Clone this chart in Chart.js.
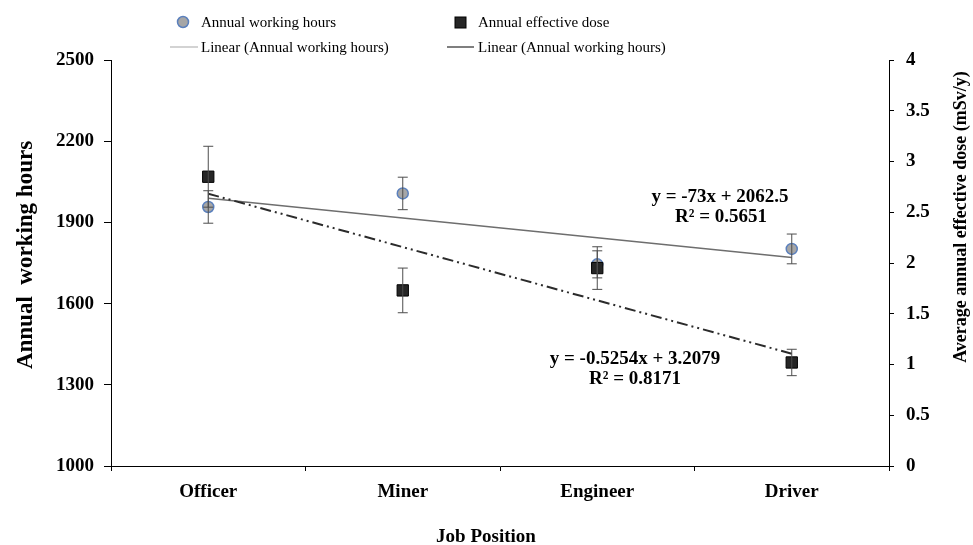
<!DOCTYPE html>
<html>
<head>
<meta charset="utf-8">
<script src="https://cdn.jsdelivr.net/npm/chart.js@4/dist/chart.umd.min.js"></script>
<style>
  html, body { margin: 0; padding: 0; background: #fff; }
  #wrap { width: 973px; height: 545px; position: relative; }
</style>
</head>
<body>
<div id="wrap"><canvas id="c" width="973" height="545"></canvas></div>
<script>
// ---- data ----
const categories = ['Officer', 'Miner', 'Engineer', 'Driver'];
const workingHours = [1957, 2007, 1745, 1802];
const workingHoursErr = [60, 60, 50, 55];
const effectiveDose = [2.85, 1.73, 1.95, 1.02];
const effectiveDoseErr = [0.30, 0.22, 0.21, 0.13];
const hoursTrend = [1989.5, 1916.5, 1843.5, 1770.5];   // y = -73x + 2062.5
const doseTrend = [2.6825, 2.1571, 1.6317, 1.1063];    // y = -0.5254x + 3.2079
const hoursTicks = [1000, 1300, 1600, 1900, 2200, 2500];
const doseTicks = [0, 0.5, 1, 1.5, 2, 2.5, 3, 3.5, 4];
const hoursEquation = ['y = -73x + 2062.5', 'R² = 0.5651'];
const doseEquation = ['y = -0.5254x + 3.2079', 'R² = 0.8171'];
const legendLabels = ['Annual working hours', 'Annual effective dose',
                      'Linear (Annual working hours)', 'Linear (Annual working hours)'];
const xTitle = 'Job Position';
const yTitle = 'Annual  working hours';
const y1Title = 'Average annual effective dose (mSv/y)';

const SERIF = "'Liberation Serif', 'Times New Roman', serif";
const CIRCLE_FILL = '#a6a6a6', CIRCLE_BORDER = '#5b80bd';
const SQUARE_FILL = '#262626', SQUARE_BORDER = '#000000';
const DOSE_DASH = [11, 4, 2, 4, 2, 4];

const errorBarPlugin = {
  id: 'errorBars',
  afterDatasetsDraw(chart) {
    const ctx = chart.ctx, xs = chart.scales.x;
    const draw = (vals, errs, scale) => {
      vals.forEach((v, i) => {
        const px = xs.getPixelForValue(i);
        const t = scale.getPixelForValue(v + errs[i]);
        const b = scale.getPixelForValue(v - errs[i]);
        ctx.beginPath();
        ctx.moveTo(px, t); ctx.lineTo(px, b);
        ctx.moveTo(px - 5, t); ctx.lineTo(px + 5, t);
        ctx.moveTo(px - 5, b); ctx.lineTo(px + 5, b);
        ctx.stroke();
      });
    };
    ctx.save();
    ctx.strokeStyle = '#4d4d4d';
    ctx.lineWidth = 1;
    draw(workingHours, workingHoursErr, chart.scales.y);
    draw(effectiveDose, effectiveDoseErr, chart.scales.y1);
    ctx.restore();
  }
};

const decorPlugin = {
  id: 'decor',
  afterDraw(chart) {
    const ctx = chart.ctx;
    ctx.save();
    ctx.fillStyle = '#000';
    // equations
    ctx.font = 'bold 19px ' + SERIF;
    ctx.textAlign = 'center';
    ctx.textBaseline = 'middle';
    ctx.fillText(hoursEquation[0], 720, 197);
    ctx.fillText(hoursEquation[1], 721, 217);
    ctx.fillText(doseEquation[0], 635, 359);
    ctx.fillText(doseEquation[1], 635, 379);
    // x title
    ctx.fillText(xTitle, 486, 537);
    // left title
    ctx.save();
    ctx.translate(26, 255);
    ctx.rotate(-Math.PI / 2);
    ctx.font = 'bold 23px ' + SERIF;
    ctx.fillText(yTitle, 0, 0);
    ctx.restore();
    // right title
    ctx.save();
    ctx.translate(961, 217);
    ctx.rotate(-Math.PI / 2);
    ctx.font = 'bold 18px ' + SERIF;
    ctx.fillText(y1Title, 0, 0);
    ctx.restore();

    // legend
    ctx.font = '15px ' + SERIF;
    ctx.textAlign = 'left';
    ctx.beginPath();
    ctx.arc(183, 22, 5.5, 0, Math.PI * 2);
    ctx.fillStyle = CIRCLE_FILL; ctx.fill();
    ctx.strokeStyle = CIRCLE_BORDER; ctx.lineWidth = 1.5; ctx.stroke();
    ctx.fillStyle = '#000';
    ctx.fillText(legendLabels[0], 201, 23);
    ctx.fillStyle = SQUARE_FILL;
    ctx.fillRect(455, 17, 11, 11);
    ctx.strokeStyle = SQUARE_BORDER; ctx.lineWidth = 1; ctx.strokeRect(455, 17, 11, 11);
    ctx.fillStyle = '#000';
    ctx.fillText(legendLabels[1], 478, 23);
    ctx.beginPath(); ctx.moveTo(170, 47); ctx.lineTo(198, 47);
    ctx.strokeStyle = '#c4c4c4'; ctx.lineWidth = 1.5; ctx.stroke();
    ctx.fillText(legendLabels[2], 201, 48);
    ctx.beginPath(); ctx.moveTo(447, 47); ctx.lineTo(474, 47);
    ctx.strokeStyle = '#555555'; ctx.lineWidth = 1.5; ctx.stroke();
    ctx.fillText(legendLabels[3], 478, 48);
    ctx.restore();
  }
};

const tickFont = { family: SERIF, size: 19, weight: 'bold' };

new Chart(document.getElementById('c'), {
  type: 'line',
  data: {
    labels: categories,
    datasets: [
      {
        label: legendLabels[2], data: hoursTrend, yAxisID: 'y',
        borderColor: '#6e6e6e', borderWidth: 1.5, pointRadius: 0, fill: false, order: 4
      },
      {
        label: legendLabels[3], data: doseTrend, yAxisID: 'y1',
        borderColor: '#2b2b2b', borderWidth: 2, borderDash: DOSE_DASH,
        pointRadius: 0, fill: false, order: 3
      },
      {
        label: legendLabels[0], data: workingHours, yAxisID: 'y', showLine: false,
        pointStyle: 'circle', pointRadius: 5.5, pointBackgroundColor: CIRCLE_FILL,
        pointBorderColor: CIRCLE_BORDER, pointBorderWidth: 1.5, order: 2
      },
      {
        label: legendLabels[1], data: effectiveDose, yAxisID: 'y1', showLine: false,
        pointStyle: 'rect', pointRadius: 8, pointBackgroundColor: SQUARE_FILL,
        pointBorderColor: SQUARE_BORDER, pointBorderWidth: 1, order: 1
      }
    ]
  },
  options: {
    responsive: false,
    animation: false,
    layout: { padding: { top: 60, left: 0, right: 0, bottom: 0 } },
    plugins: { legend: { display: false }, tooltip: { enabled: false } },
    scales: {
      x: {
        type: 'category',
        offset: true,
        grid: { display: true, drawOnChartArea: false, offset: true, tickLength: 5, color: '#000' },
        border: { display: true, color: '#000', width: 1 },
        ticks: { font: tickFont, color: '#000', padding: 10, maxRotation: 0 },
        afterFit(s) { s.height = 79; }
      },
      y: {
        position: 'left',
        min: 1000, max: 2500,
        afterBuildTicks(s) { s.ticks = hoursTicks.map(v => ({ value: v })); },
        grid: { display: true, drawOnChartArea: false, tickLength: 7, color: '#000' },
        border: { display: true, color: '#000', width: 1 },
        ticks: { font: tickFont, color: '#000', padding: 10, callback: v => String(v) },
        afterFit(s) { s.width = 111; }
      },
      y1: {
        position: 'right',
        min: 0, max: 4,
        afterBuildTicks(s) { s.ticks = doseTicks.map(v => ({ value: v })); },
        grid: { display: true, drawOnChartArea: false, tickLength: 5, color: '#000' },
        border: { display: true, color: '#000', width: 1 },
        ticks: { font: tickFont, color: '#000', padding: 12, callback: v => String(v) },
        afterFit(s) { s.width = 84; }
      }
    }
  },
  plugins: [errorBarPlugin, decorPlugin]
});
</script>
</body>
</html>
